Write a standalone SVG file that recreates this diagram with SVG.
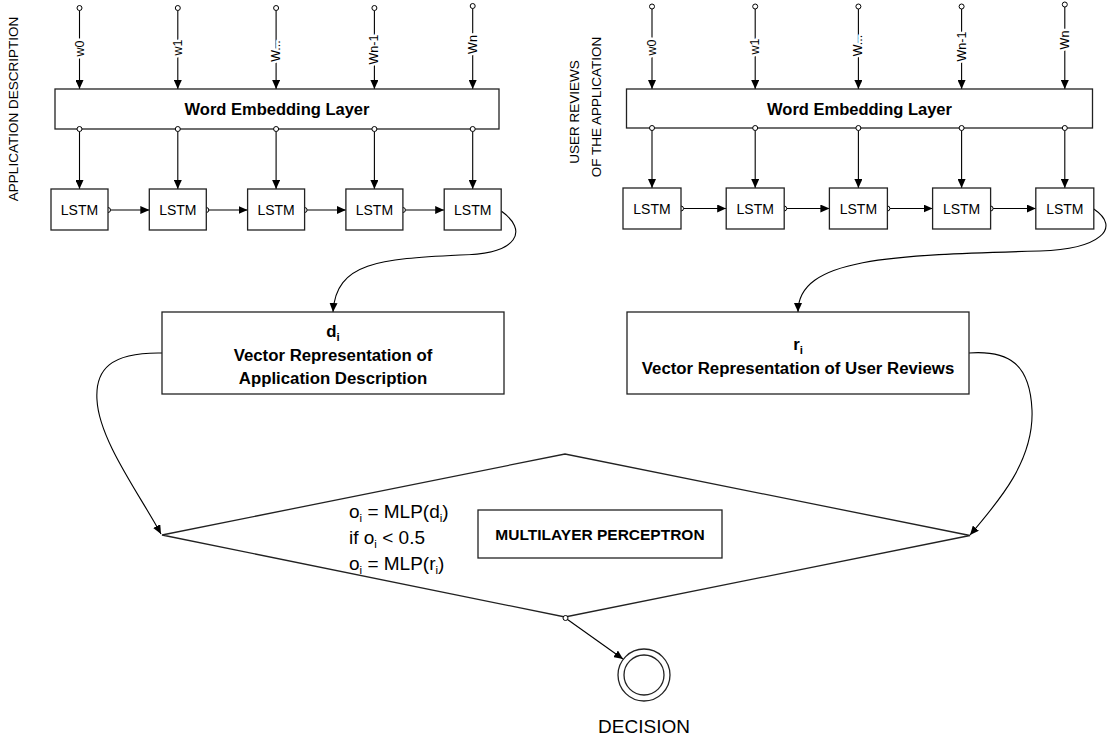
<svg xmlns="http://www.w3.org/2000/svg" width="1107" height="743" viewBox="0 0 1107 743">
  <defs>
    <marker id="arrow" markerUnits="userSpaceOnUse" markerWidth="9" markerHeight="8" refX="9" refY="4" orient="auto">
      <path d="M0,0 L9,4 L0,8 z" fill="#000"/>
    </marker>
    <style>
      text { font-family: "Liberation Sans", Arial, sans-serif; fill: #000; }
      .box { fill: #fff; stroke: #222; stroke-width: 1.3; }
      .ln { fill: none; stroke: #000; stroke-width: 1.1; }
      .arr { fill: none; stroke: #000; stroke-width: 1.1; marker-end: url(#arrow); }
      .port { fill: #fff; stroke: #000; stroke-width: 1; }
      .side { font-size: 13.5px; }
      .win { font-size: 12.5px; stroke: #fff; stroke-width: 5; stroke-linejoin: round; paint-order: stroke; }
      .emb { font-size: 16.5px; font-weight: bold; }
      .lstm { font-size: 14px; }
      .vec { font-size: 16.8px; font-weight: bold; }
      .eq { font-size: 19px; }
      .mlp { font-size: 15.5px; font-weight: bold; }
      .dec { font-size: 19px; }
      .sub { font-size: 11.5px; }
    </style>
  </defs>

  <!-- side captions -->
  <text class="side" transform="translate(13.5,109) rotate(-90)" text-anchor="middle" dominant-baseline="central">APPLICATION DESCRIPTION</text>
  <text class="side" transform="translate(574,112) rotate(-90)" text-anchor="middle" dominant-baseline="central">USER REVIEWS</text>
  <text class="side" transform="translate(596,107) rotate(-90)" text-anchor="middle" dominant-baseline="central">OF THE APPLICATION</text>

  <!-- connectors -->
  <g id="connectors">
    <!-- description branch: word inputs -->
    <line class="arr" x1="79.5" y1="10.5" x2="79.5" y2="89"/>
    <line class="arr" x1="177.8" y1="10.5" x2="177.8" y2="89"/>
    <line class="arr" x1="276.1" y1="10.5" x2="276.1" y2="89"/>
    <line class="arr" x1="374.4" y1="10.5" x2="374.4" y2="89"/>
    <line class="arr" x1="472.7" y1="8.5" x2="472.7" y2="89"/>
    <!-- description branch: embedding to LSTM -->
    <line class="arr" x1="79.5" y1="131.5" x2="79.5" y2="189"/>
    <line class="arr" x1="177.8" y1="131.5" x2="177.8" y2="189"/>
    <line class="arr" x1="276.1" y1="131.5" x2="276.1" y2="189"/>
    <line class="arr" x1="374.4" y1="131.5" x2="374.4" y2="189"/>
    <line class="arr" x1="472.7" y1="131.5" x2="472.7" y2="189"/>
    <!-- description branch: LSTM chain -->
    <line class="arr" x1="110.5" y1="210" x2="149.3" y2="210"/>
    <line class="arr" x1="208.8" y1="210" x2="247.6" y2="210"/>
    <line class="arr" x1="307.1" y1="210" x2="345.9" y2="210"/>
    <line class="arr" x1="405.4" y1="210" x2="444.2" y2="210"/>
    <circle class="port" cx="108" cy="210" r="2.5"/>
    <circle class="port" cx="206.3" cy="210" r="2.5"/>
    <circle class="port" cx="304.6" cy="210" r="2.5"/>
    <circle class="port" cx="402.9" cy="210" r="2.5"/>
    <path class="arr" d="M501.2,211 C528,230 520,254 460,255 C380,259 336,262 333,312"/>

    <!-- reviews branch: word inputs -->
    <line class="arr" x1="652" y1="9" x2="652" y2="89"/>
    <line class="arr" x1="755.2" y1="9" x2="755.2" y2="89"/>
    <line class="arr" x1="858.4" y1="9" x2="858.4" y2="89"/>
    <line class="arr" x1="961.6" y1="9" x2="961.6" y2="89"/>
    <line class="arr" x1="1064.8" y1="7" x2="1064.8" y2="89"/>
    <!-- reviews branch: embedding to LSTM -->
    <line class="arr" x1="652" y1="130.5" x2="652" y2="188"/>
    <line class="arr" x1="755.2" y1="130.5" x2="755.2" y2="188"/>
    <line class="arr" x1="858.4" y1="130.5" x2="858.4" y2="188"/>
    <line class="arr" x1="961.6" y1="130.5" x2="961.6" y2="188"/>
    <line class="arr" x1="1064.8" y1="130.5" x2="1064.8" y2="188"/>
    <!-- reviews branch: LSTM chain -->
    <line class="arr" x1="683.5" y1="208.5" x2="726.2" y2="208.5"/>
    <line class="arr" x1="786.7" y1="208.5" x2="829.4" y2="208.5"/>
    <line class="arr" x1="889.9" y1="208.5" x2="932.6" y2="208.5"/>
    <line class="arr" x1="993.1" y1="208.5" x2="1035.8" y2="208.5"/>
    <circle class="port" cx="681" cy="208.5" r="2.5"/>
    <circle class="port" cx="784.2" cy="208.5" r="2.5"/>
    <circle class="port" cx="887.4" cy="208.5" r="2.5"/>
    <circle class="port" cx="990.6" cy="208.5" r="2.5"/>
    <path class="arr" d="M1093.8,209 C1122,228 1100,249 1040,251 C890,255 798,258 798,312"/>

    <!-- vectors into the perceptron -->
    <path class="arr" d="M162,353 C110,352 95,370 97,400 C99,440 140,495 161,534"/>
    <path class="arr" d="M969,353 C1010,350 1030,365 1032,410 C1034,460 1000,500 970,535"/>

    <!-- perceptron to decision -->
    <line class="arr" x1="567.5" y1="619.5" x2="623" y2="659"/>
  </g>

  <!-- word labels on the input lines (description) -->
  <g id="inputs-description">
    <circle class="port" cx="79.5" cy="8" r="2.5"/>
    <circle class="port" cx="177.8" cy="8" r="2.5"/>
    <circle class="port" cx="276.1" cy="8" r="2.5"/>
    <circle class="port" cx="374.4" cy="8" r="2.5"/>
    <circle class="port" cx="472.7" cy="6" r="2.5"/>
    <text class="win" transform="translate(79.5,48.5) rotate(-90)" text-anchor="middle" dominant-baseline="central">w0</text>
    <text class="win" transform="translate(177.8,47.5) rotate(-90)" text-anchor="middle" dominant-baseline="central">w1</text>
    <text class="win" transform="translate(276.1,51) rotate(-90)" text-anchor="middle" dominant-baseline="central">W...</text>
    <text class="win" transform="translate(374.4,49.5) rotate(-90)" text-anchor="middle" dominant-baseline="central">Wn-1</text>
    <text class="win" transform="translate(472.7,44.5) rotate(-90)" text-anchor="middle" dominant-baseline="central">Wn</text>
  </g>

  <!-- word labels on the input lines (reviews) -->
  <g id="inputs-reviews">
    <circle class="port" cx="652" cy="6.5" r="2.5"/>
    <circle class="port" cx="755.2" cy="6.5" r="2.5"/>
    <circle class="port" cx="858.4" cy="6.5" r="2.5"/>
    <circle class="port" cx="961.6" cy="6.5" r="2.5"/>
    <circle class="port" cx="1064.8" cy="4.5" r="2.5"/>
    <text class="win" transform="translate(652,47.5) rotate(-90)" text-anchor="middle" dominant-baseline="central">w0</text>
    <text class="win" transform="translate(755.2,46.5) rotate(-90)" text-anchor="middle" dominant-baseline="central">w1</text>
    <text class="win" transform="translate(858.4,45.5) rotate(-90)" text-anchor="middle" dominant-baseline="central">W...</text>
    <text class="win" transform="translate(961.6,46.5) rotate(-90)" text-anchor="middle" dominant-baseline="central">Wn-1</text>
    <text class="win" transform="translate(1064.8,40) rotate(-90)" text-anchor="middle" dominant-baseline="central">Wn</text>
  </g>

  <!-- embedding layers -->
  <g id="embedding-description">
    <rect class="box" x="55" y="89" width="444" height="40"/>
    <text class="emb" x="277" y="115" text-anchor="middle">Word Embedding Layer</text>
    <circle class="port" cx="79.5" cy="129" r="2.5"/>
    <circle class="port" cx="177.8" cy="129" r="2.5"/>
    <circle class="port" cx="276.1" cy="129" r="2.5"/>
    <circle class="port" cx="374.4" cy="129" r="2.5"/>
    <circle class="port" cx="472.7" cy="129" r="2.5"/>
  </g>
  <g id="embedding-reviews">
    <rect class="box" x="626.5" y="89" width="466" height="39"/>
    <text class="emb" x="859.5" y="114.5" text-anchor="middle">Word Embedding Layer</text>
    <circle class="port" cx="652" cy="128" r="2.5"/>
    <circle class="port" cx="755.2" cy="128" r="2.5"/>
    <circle class="port" cx="858.4" cy="128" r="2.5"/>
    <circle class="port" cx="961.6" cy="128" r="2.5"/>
    <circle class="port" cx="1064.8" cy="128" r="2.5"/>
  </g>

  <!-- LSTM cells, description -->
  <g id="lstm-d0"><rect class="box" x="51" y="189" width="57" height="41"/><text class="lstm" x="79.5" y="215" text-anchor="middle">LSTM</text></g>
  <g id="lstm-d1"><rect class="box" x="149.3" y="189" width="57" height="41"/><text class="lstm" x="177.8" y="215" text-anchor="middle">LSTM</text></g>
  <g id="lstm-d2"><rect class="box" x="247.6" y="189" width="57" height="41"/><text class="lstm" x="276.1" y="215" text-anchor="middle">LSTM</text></g>
  <g id="lstm-d3"><rect class="box" x="345.9" y="189" width="57" height="41"/><text class="lstm" x="374.4" y="215" text-anchor="middle">LSTM</text></g>
  <g id="lstm-d4"><rect class="box" x="444.2" y="189" width="57" height="41"/><text class="lstm" x="472.7" y="215" text-anchor="middle">LSTM</text></g>

  <!-- LSTM cells, reviews -->
  <g id="lstm-r0"><rect class="box" x="623" y="188" width="58" height="41"/><text class="lstm" x="652" y="214" text-anchor="middle">LSTM</text></g>
  <g id="lstm-r1"><rect class="box" x="726.2" y="188" width="58" height="41"/><text class="lstm" x="755.2" y="214" text-anchor="middle">LSTM</text></g>
  <g id="lstm-r2"><rect class="box" x="829.4" y="188" width="58" height="41"/><text class="lstm" x="858.4" y="214" text-anchor="middle">LSTM</text></g>
  <g id="lstm-r3"><rect class="box" x="932.6" y="188" width="58" height="41"/><text class="lstm" x="961.6" y="214" text-anchor="middle">LSTM</text></g>
  <g id="lstm-r4"><rect class="box" x="1035.8" y="188" width="58" height="41"/><text class="lstm" x="1064.8" y="214" text-anchor="middle">LSTM</text></g>

  <!-- vector representations -->
  <g id="vector-d">
    <rect class="box" x="162" y="312" width="342" height="82"/>
    <text class="vec" x="333" y="337" text-anchor="middle">d<tspan class="sub" dy="4">i</tspan></text>
    <text class="vec" x="333" y="360.5" text-anchor="middle">Vector Representation of</text>
    <text class="vec" x="333" y="384" text-anchor="middle">Application Description</text>
  </g>
  <g id="vector-r">
    <rect class="box" x="627" y="312" width="342" height="82"/>
    <text class="vec" x="798" y="350" text-anchor="middle">r<tspan class="sub" dy="4">i</tspan></text>
    <text class="vec" x="798" y="374" text-anchor="middle">Vector Representation of User Reviews</text>
  </g>

  <!-- perceptron decision block -->
  <g id="perceptron">
    <polygon class="box" points="162,535 565,454 970,535.5 565,617"/>
    <text class="eq" x="349" y="518">o<tspan class="sub" dy="4">i</tspan><tspan dy="-4"> = MLP(d</tspan><tspan class="sub" dy="4">i</tspan><tspan dy="-4">)</tspan></text>
    <text class="eq" x="349" y="544">if o<tspan class="sub" dy="4">i</tspan><tspan dy="-4"> &lt; 0.5</tspan></text>
    <text class="eq" x="349" y="570">o<tspan class="sub" dy="4">i</tspan><tspan dy="-4"> = MLP(r</tspan><tspan class="sub" dy="4">i</tspan><tspan dy="-4">)</tspan></text>
    <rect class="box" x="478" y="510" width="244" height="48"/>
    <text class="mlp" x="600" y="540" text-anchor="middle">MULTILAYER PERCEPTRON</text>
    <circle class="port" cx="565.5" cy="618" r="2.5"/>
  </g>

  <!-- final decision -->
  <g id="decision">
    <circle cx="644" cy="675" r="26" fill="#fff" stroke="#222" stroke-width="1.3"/>
    <circle cx="644" cy="675" r="20" fill="#fff" stroke="#222" stroke-width="1.3"/>
    <text class="dec" x="644" y="733" text-anchor="middle">DECISION</text>
  </g>
</svg>
